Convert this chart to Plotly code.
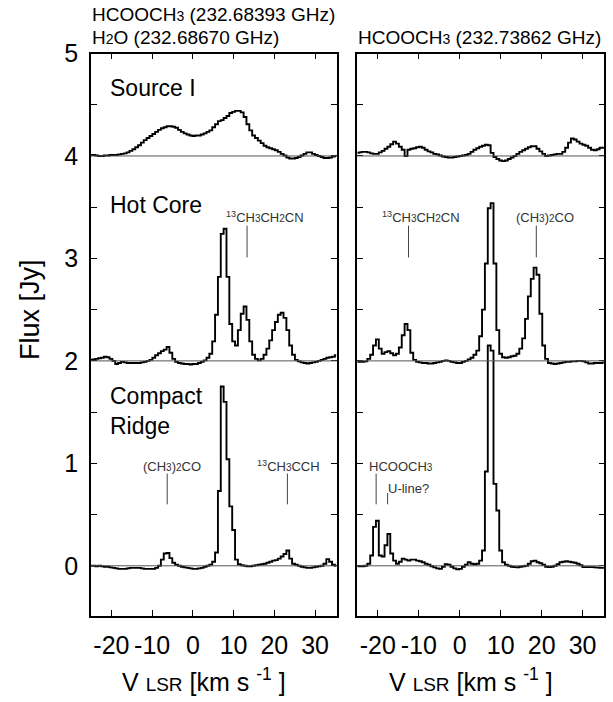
import plotly.graph_objects as go

# ---------------- data ----------------
VELOCITY = [
    -25.0, -24.3, -23.6, -22.9, -22.2, -21.5, -20.8, -20.1, -19.4, -18.7,
    -18.0, -17.3, -16.6, -15.9, -15.2, -14.5, -13.8, -13.1, -12.4, -11.7,
    -11.0, -10.3, -9.6, -8.9, -8.2, -7.5, -6.8, -6.1, -5.4, -4.7,
    -4.0, -3.3, -2.6, -1.9, -1.2, -0.5, 0.2, 0.9, 1.6, 2.3,
    3.0, 3.7, 4.4, 5.1, 5.8, 6.5, 7.2, 7.9, 8.6, 9.3,
    10.0, 10.7, 11.4, 12.1, 12.8, 13.5, 14.2, 14.9, 15.6, 16.3,
    17.0, 17.7, 18.4, 19.1, 19.8, 20.5, 21.2, 21.9, 22.6, 23.3,
    24.0, 24.7, 25.4, 26.1, 26.8, 27.5, 28.2, 28.9, 29.6, 30.3,
    31.0, 31.7, 32.4, 33.1, 33.8, 34.5, 35.2,
]

SOURCE_I_LEFT = [
    0.01, 0.01, 0.005, 0.0, 0.0, 0.005, 0.005, 0.01, 0.01, 0.01,
    0.015, 0.02, 0.025, 0.035, 0.05, 0.065, 0.085, 0.105, 0.13, 0.155,
    0.175, 0.195, 0.215, 0.235, 0.255, 0.27, 0.28, 0.29, 0.29, 0.285,
    0.275, 0.255, 0.235, 0.22, 0.21, 0.2, 0.195, 0.2, 0.2, 0.21,
    0.22, 0.235, 0.25, 0.28, 0.31, 0.34, 0.35, 0.37, 0.39, 0.42,
    0.43, 0.44, 0.44, 0.425, 0.38, 0.31, 0.25, 0.2, 0.175, 0.15,
    0.125, 0.1, 0.085, 0.075, 0.065, 0.055, 0.04, 0.02, 0.005, -0.015,
    -0.025, -0.025, -0.02, -0.01, 0.005, 0.02, 0.035, 0.035, 0.02, 0.01,
    0.0, -0.01, -0.02, -0.02, -0.015, -0.005, 0.0,
]

SOURCE_I_RIGHT = [
    0.03, 0.035, 0.04, 0.04, 0.035, 0.025, 0.02, 0.02, 0.035, 0.05,
    0.07, 0.09, 0.115, 0.14, 0.12, 0.09, 0.06, 0.0, 0.06, 0.07,
    0.075, 0.085, 0.09, 0.08, 0.06, 0.045, 0.035, 0.02, 0.015, 0.005,
    -0.005, -0.01, -0.015, -0.015, -0.01, -0.005, 0.0, 0.005, 0.01, 0.02,
    0.04, 0.06, 0.075, 0.09, 0.1, 0.11, 0.105, 0.03, -0.01, -0.03,
    -0.045, -0.05, -0.045, -0.03, -0.015, 0.0, 0.02, 0.04, 0.055, 0.07,
    0.085, 0.095, 0.095, 0.07, 0.045, 0.02, 0.0, 0.005, 0.01, 0.015,
    0.02, 0.02, 0.04, 0.08, 0.13, 0.17, 0.16, 0.14, 0.12, 0.11,
    0.1, 0.08, 0.06, 0.055, 0.065, 0.08, 0.08,
]

HOT_CORE_LEFT = [
    0.01, 0.015, 0.02, 0.025, 0.03, 0.04, 0.035, 0.02, 0.0, -0.03,
    -0.02, -0.01, -0.015, -0.02, -0.02, -0.02, -0.02, -0.02, -0.015, -0.01,
    0.0, 0.01, 0.03, 0.055, 0.075, 0.095, 0.11, 0.135, 0.08, 0.02,
    -0.01, -0.02, -0.025, -0.03, -0.03, -0.035, -0.03, -0.03, -0.02, -0.01,
    0.005, 0.03, 0.07, 0.19, 0.45, 0.82, 1.24, 1.29, 0.82, 0.36,
    0.19, 0.15, 0.3, 0.46, 0.53, 0.4, 0.19, 0.06, 0.02, 0.005,
    0.02, 0.06, 0.12, 0.2, 0.3, 0.38, 0.45, 0.47, 0.42, 0.3,
    0.15, 0.06, 0.01, -0.005, -0.015, -0.02, -0.025, -0.02, -0.015, -0.01,
    0.0, 0.01, 0.02, 0.03, 0.035, 0.04, 0.055,
]

HOT_CORE_RIGHT = [
    -0.01, -0.01, -0.01, -0.005, 0.02, 0.06, 0.15, 0.21, 0.12, 0.07,
    0.085, 0.095, 0.075, 0.055, 0.07, 0.13, 0.25, 0.36, 0.3, 0.08,
    0.01, -0.01, -0.015, -0.02, -0.02, -0.025, -0.025, -0.02, -0.015, -0.01,
    0.0, 0.005, 0.0, -0.01, -0.015, -0.02, -0.02, -0.01, 0.0, 0.015,
    0.03, 0.06, 0.1, 0.24, 0.5, 0.95, 1.49, 1.54, 0.95, 0.3,
    0.07, 0.035, 0.03, 0.035, 0.045, 0.05, 0.07, 0.12, 0.22, 0.41,
    0.63, 0.8, 0.91, 0.84, 0.46, 0.15, 0.02, -0.02, -0.025, -0.03,
    -0.025, -0.02, -0.015, -0.01, -0.01, -0.005, -0.005, 0.0, 0.0, -0.005,
    -0.015, -0.025, -0.025, -0.02, -0.02, -0.02, -0.015,
]

COMPACT_RIDGE_LEFT = [
    0.0, 0.0, -0.005, 0.0, -0.005, -0.01, -0.01, -0.015, -0.02, -0.025,
    -0.03, -0.03, -0.03, -0.025, -0.02, -0.02, -0.02, -0.02, -0.025, -0.03,
    -0.03, -0.03, -0.03, -0.02, 0.0, 0.06, 0.12, 0.125, 0.075, 0.03,
    0.01, 0.0, -0.01, -0.015, -0.02, -0.025, -0.03, -0.03, -0.025, -0.02,
    -0.01, 0.0, 0.01, 0.04, 0.13, 0.73, 1.75, 1.6, 1.04, 0.58,
    0.35, 0.06, 0.015, 0.005, 0.0, -0.005, -0.005, 0.0, 0.005, 0.01,
    0.015, 0.02, 0.03, 0.04, 0.05, 0.055, 0.07, 0.09, 0.115, 0.15,
    0.07, 0.02, 0.01, 0.0, -0.01, -0.015, -0.02, -0.02, -0.015, -0.01,
    -0.005, 0.0, 0.02, 0.065, 0.04, 0.01, 0.0,
]

COMPACT_RIDGE_RIGHT = [
    -0.005, -0.005, -0.005, 0.0, 0.02, 0.1, 0.38, 0.44, 0.1, 0.09,
    0.2, 0.31, 0.12, 0.05, 0.02, 0.04, 0.07, 0.06, 0.05, 0.06,
    0.06, 0.05, 0.045, 0.035, 0.02, 0.01, -0.005, -0.015, -0.025, -0.03,
    -0.01, 0.015, 0.01, -0.01, -0.025, -0.035, -0.03, -0.01, 0.01, 0.035,
    0.02, 0.015, 0.02, 0.05, 0.15, 0.92, 2.15, 2.1, 0.8, 0.54,
    0.15, 0.035, 0.01, 0.0, -0.01, -0.013, -0.015, -0.01, -0.005, 0.0,
    0.02, 0.045, 0.05, 0.035, 0.025, 0.01, -0.01, -0.013, -0.01, 0.0,
    0.015, 0.035, 0.04, 0.045, 0.04, 0.035, 0.03, 0.02, 0.005, -0.013,
    -0.013, -0.013, -0.013, -0.015, -0.018, -0.02, -0.02,
]

SOURCE_NAMES = ["Source I", "Hot Core", "Compact<br>Ridge"]
SOURCE_OFFSETS = [4, 2, 0]

# identified lines: velocity marker, label, source offset it belongs to
SUB = "<span style='font-size:10px'>{}</span>"
LINE_IDS_LEFT = [
    (13.3, "<sup>13</sup>CH" + SUB.format("3") + "CH" + SUB.format("2") + "CN", 2),
    (-6.3, "(CH" + SUB.format("3") + ")" + SUB.format("2") + "CO", 0),
    (23.2, "<sup>13</sup>CH" + SUB.format("3") + "CCH", 0),
]
LINE_IDS_RIGHT = [
    (-12.5, "<sup>13</sup>CH" + SUB.format("3") + "CH" + SUB.format("2") + "CN", 2),
    (18.7, "(CH" + SUB.format("3") + ")" + SUB.format("2") + "CO", 2),
    (-20.4, "HCOOCH" + SUB.format("3"), 0),
]
ULINE_VELOCITY = -17.6

X_TICKS = [-20, -10, 0, 10, 20, 30]
X_TICK_TEXT = ["-20", "-10", "0", "10", "20", "30"]
Y_TICKS = [0, 0.5, 1, 1.5, 2, 2.5, 3, 3.5, 4, 4.5, 5]
Y_TICK_TEXT = ["0", "", "1", "", "2", "", "3", "", "4", "", "5"]

# label centre positions (layout, km/s) for the identifications above
LABEL_X_LEFT = [17.7, -5.1, 23.4]
LABEL_X_RIGHT = [-9.5, 20.9, -14.4]
ULINE_LABEL_X = -12.5

# ---------------- figure ----------------
W, H = 613, 702
FONT = "Liberation Sans, Arial, Helvetica, sans-serif"


def px(x):
    return x / W


def py(y):
    return 1 - y / H


fig = go.Figure()

left_spectra = [SOURCE_I_LEFT, HOT_CORE_LEFT, COMPACT_RIDGE_LEFT]
right_spectra = [SOURCE_I_RIGHT, HOT_CORE_RIGHT, COMPACT_RIDGE_RIGHT]

for spectra, xa, ya in [(left_spectra, "x", "y"), (right_spectra, "x2", "y2")]:
    for vals, off in zip(spectra, SOURCE_OFFSETS):
        fig.add_trace(go.Scatter(
            x=VELOCITY, y=[v + off for v in vals], mode="lines",
            line=dict(color="black", width=1.9, shape="hvh"),
            xaxis=xa, yaxis=ya, showlegend=False, hoverinfo="skip"))

shapes = []
for xr, yr in [("x", "y"), ("x2", "y2")]:
    for off in SOURCE_OFFSETS:
        shapes.append(dict(type="line", xref=f"{xr} domain", yref=yr,
                           x0=0, x1=1, y0=off, y1=off,
                           line=dict(color="#555555", width=1)))

annotations = []


def add_id(xr, yr, vel, text, base, lx):
    if base == 2:
        ty, l0, l1 = 3.40, 3.32, 3.01
    else:
        ty, l0, l1 = 0.97, 0.90, 0.60
    shapes.append(dict(type="line", xref=xr, yref=yr, x0=vel, x1=vel,
                       y0=l0, y1=l1, line=dict(color="#444444", width=1)))
    annotations.append(dict(xref=xr, yref=yr, x=lx, y=ty, text=text,
                            showarrow=False, xanchor="center", yanchor="middle",
                            font=dict(family=FONT, size=13, color="#333333")))


for (vel, text, base), lx in zip(LINE_IDS_LEFT, LABEL_X_LEFT):
    add_id("x", "y", vel, text, base, lx)
for (vel, text, base), lx in zip(LINE_IDS_RIGHT, LABEL_X_RIGHT):
    add_id("x2", "y2", vel, text, base, lx)

shapes.append(dict(type="line", xref="x2", yref="y2", x0=ULINE_VELOCITY,
                   x1=ULINE_VELOCITY, y0=0.71, y1=0.60,
                   line=dict(color="#444444", width=1)))
annotations.append(dict(xref="x2", yref="y2", x=ULINE_LABEL_X, y=0.755,
                        text="U-line?", showarrow=False, xanchor="center",
                        yanchor="middle",
                        font=dict(family=FONT, size=13, color="#333333")))

name_y = [4.66, 3.52, 1.51]
for name, yv in zip(SOURCE_NAMES, name_y):
    annotations.append(dict(xref="x", yref="y", x=-20.8, y=yv, text=name,
                            showarrow=False, xanchor="left", yanchor="middle",
                            align="left",
                            font=dict(family=FONT, size=23, color="black")))

small = "<span style='font-size:14px'>{}</span>"
annotations += [
    dict(xref="paper", yref="paper", x=px(90), y=py(14),
         text="HCOOCH" + small.format("3") + " (232.68393 GHz)",
         showarrow=False, xanchor="left", yanchor="middle",
         font=dict(family=FONT, size=19, color="black")),
    dict(xref="paper", yref="paper", x=px(90), y=py(38),
         text="H" + small.format("2") + "O (232.68670 GHz)",
         showarrow=False, xanchor="left", yanchor="middle",
         font=dict(family=FONT, size=19, color="black")),
    dict(xref="paper", yref="paper", x=px(356), y=py(38),
         text="HCOOCH" + small.format("3") + " (232.73862 GHz)",
         showarrow=False, xanchor="left", yanchor="middle",
         font=dict(family=FONT, size=19, color="black")),
    dict(xref="paper", yref="paper", x=px(30), y=py(310),
         text="Flux [Jy]", textangle=-90, showarrow=False,
         xanchor="center", yanchor="middle",
         font=dict(family=FONT, size=27, color="black")),
]
xtitle = "V <span style='font-size:19px'>LSR</span> [km s <sup>-1</sup> ]"
for cx in (204, 471):
    annotations.append(dict(xref="paper", yref="paper", x=px(cx), y=py(680),
                            text=xtitle, showarrow=False, xanchor="center",
                            yanchor="middle",
                            font=dict(family=FONT, size=25, color="black")))

axis_common = dict(showline=True, linecolor="black", linewidth=1.5,
                   mirror="ticks", ticks="inside", ticklen=6, tickwidth=1,
                   tickcolor="black", showgrid=False, zeroline=False,
                   tickfont=dict(family=FONT, size=25, color="black"))

y_dom = [py(616), py(53.5)]
fig.update_layout(
    width=W, height=H,
    margin=dict(l=0, r=0, t=0, b=0, autoexpand=False),
    paper_bgcolor="white", plot_bgcolor="white",
    xaxis=dict(domain=[px(91), px(336.7)], range=[-25, 35.3],
               tickvals=X_TICKS, ticktext=X_TICK_TEXT, tickangle=0,
               anchor="y", ticklabelstandoff=6, **axis_common),
    yaxis=dict(domain=y_dom, range=[-0.49, 5.0], tickvals=Y_TICKS,
               ticktext=Y_TICK_TEXT, anchor="x", ticklabelstandoff=6,
               **axis_common),
    xaxis2=dict(domain=[px(357.3), px(604.3)], range=[-25, 35.3],
                tickvals=X_TICKS, ticktext=X_TICK_TEXT, tickangle=0,
                anchor="y2", ticklabelstandoff=6, **axis_common),
    yaxis2=dict(domain=y_dom, range=[-0.49, 5.0], tickvals=Y_TICKS,
                showticklabels=False, anchor="x2", **axis_common),
    shapes=shapes, annotations=annotations, showlegend=False,
)

fig.write_html(
    "out.html",
    config={"displayModeBar": False},
    post_script="document.body.style.margin='0px';"
                "document.body.style.overflow='hidden';",
)
